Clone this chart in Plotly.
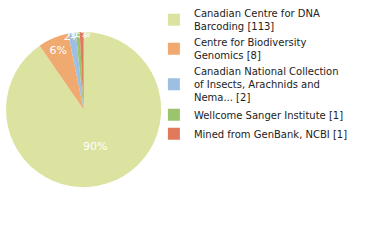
import plotly.graph_objects as go

labels = ["Canadian Centre for DNA<br>Barcoding [113]",
          "Centre for Biodiversity<br>Genomics [8]",
          "Canadian National Collection<br>of Insects, Arachnids and<br>Nema... [2]",
          "Wellcome Sanger Institute [1]",
          "Mined from GenBank, NCBI [1]"]
values = [113, 8, 2, 1, 1]
colors = ["#dce3a0", "#f0aa70", "#9dbfe2", "#9bc46d", "#e07a5a"]

fig = go.Figure(go.Pie(
    labels=labels, values=values, sort=False, direction="clockwise", rotation=0,
    marker=dict(colors=colors, line=dict(width=0)),
    texttemplate="%{percent:.0%}", textposition="inside",
    insidetextorientation="horizontal",
    textfont=dict(color="white", size=11, family="DejaVu Sans"),
    domain=dict(x=[0.01, 0.43], y=[0.225, 0.885]),
    hoverinfo="label+value"))

fig.update_layout(
    width=380, height=240, margin=dict(l=0, r=0, t=0, b=0),
    paper_bgcolor="white", plot_bgcolor="white",
    uniformtext=dict(minsize=10, mode="show"),
    legend=dict(x=0.405, y=1.02, xanchor="left", yanchor="top",
                maxheight=400,
                font=dict(family="DejaVu Sans", size=10, color="#222222"),
                itemwidth=30, tracegroupgap=0, bgcolor="rgba(0,0,0,0)"),
)
fig.write_html("out.html")
